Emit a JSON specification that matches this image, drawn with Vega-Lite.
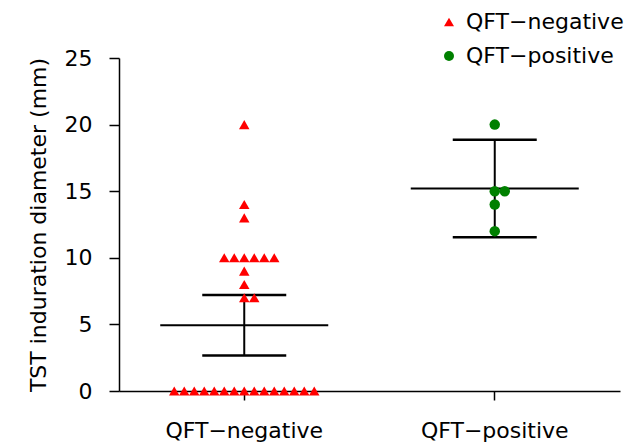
{
  "$schema": "https://vega.github.io/schema/vega-lite/v6.json",
  "width": 501,
  "height": 333,
  "autosize": {"type": "none"},
  "padding": {"left": 119, "top": 58, "right": 22, "bottom": 57},
  "background": "white",
  "config": {
    "view": {"stroke": null},
    "font": "DejaVu Sans",
    "axis": {
      "labelFont": "DejaVu Sans",
      "titleFont": "DejaVu Sans",
      "labelFontSize": 22,
      "titleFontSize": 22,
      "labelColor": "black",
      "titleColor": "black",
      "domainColor": "black",
      "tickColor": "black",
      "domainWidth": 1.5,
      "tickWidth": 1.5,
      "grid": false,
      "titleFontWeight": "normal"
    },
    "legend": {
      "labelFont": "DejaVu Sans",
      "labelFontSize": 22,
      "labelColor": "black"
    }
  },
  "datasets": {
    "raw": [
      {"group": "QFT-negative", "value": 0},
      {"group": "QFT-negative", "value": 0},
      {"group": "QFT-negative", "value": 0},
      {"group": "QFT-negative", "value": 0},
      {"group": "QFT-negative", "value": 0},
      {"group": "QFT-negative", "value": 0},
      {"group": "QFT-negative", "value": 0},
      {"group": "QFT-negative", "value": 0},
      {"group": "QFT-negative", "value": 0},
      {"group": "QFT-negative", "value": 0},
      {"group": "QFT-negative", "value": 0},
      {"group": "QFT-negative", "value": 0},
      {"group": "QFT-negative", "value": 0},
      {"group": "QFT-negative", "value": 0},
      {"group": "QFT-negative", "value": 0},
      {"group": "QFT-negative", "value": 7},
      {"group": "QFT-negative", "value": 7},
      {"group": "QFT-negative", "value": 8},
      {"group": "QFT-negative", "value": 9},
      {"group": "QFT-negative", "value": 10},
      {"group": "QFT-negative", "value": 10},
      {"group": "QFT-negative", "value": 10},
      {"group": "QFT-negative", "value": 10},
      {"group": "QFT-negative", "value": 10},
      {"group": "QFT-negative", "value": 10},
      {"group": "QFT-negative", "value": 13},
      {"group": "QFT-negative", "value": 14},
      {"group": "QFT-negative", "value": 20},
      {"group": "QFT-positive", "value": 12},
      {"group": "QFT-positive", "value": 14},
      {"group": "QFT-positive", "value": 15},
      {"group": "QFT-positive", "value": 15},
      {"group": "QFT-positive", "value": 20}
    ],
    "summary": [
      {"group": "QFT-negative", "mean": 4.93, "lo": 2.66, "hi": 7.2},
      {"group": "QFT-positive", "mean": 15.2, "lo": 11.54, "hi": 18.86}
    ]
  },
  "layer": [
    {
      "data": {"name": "summary"},
      "mark": {"type": "rule", "color": "black", "strokeWidth": 2},
      "encoding": {
        "x": {"field": "group", "type": "nominal"},
        "y": {"field": "lo", "type": "quantitative"},
        "y2": {"field": "hi"}
      }
    },
    {
      "data": {"name": "summary"},
      "mark": {"type": "tick", "color": "black", "size": 168, "thickness": 2, "opacity": 1},
      "encoding": {
        "x": {"field": "group", "type": "nominal"},
        "y": {"field": "mean", "type": "quantitative"}
      }
    },
    {
      "data": {"name": "summary"},
      "mark": {"type": "tick", "color": "black", "size": 84, "thickness": 2.5, "opacity": 1},
      "encoding": {
        "x": {"field": "group", "type": "nominal"},
        "y": {"field": "lo", "type": "quantitative"}
      }
    },
    {
      "data": {"name": "summary"},
      "mark": {"type": "tick", "color": "black", "size": 84, "thickness": 2.5, "opacity": 1},
      "encoding": {
        "x": {"field": "group", "type": "nominal"},
        "y": {"field": "hi", "type": "quantitative"}
      }
    },
    {
      "data": {"name": "raw"},
      "transform": [
        {"window": [{"op": "row_number", "as": "rank"}, {"op": "count", "as": "n"}], "groupby": ["group", "value"], "frame": [null, null]},
        {"calculate": "datum.rank - ceil(datum.n / 2)", "as": "slot"}
      ],
      "mark": {"type": "point", "filled": true, "opacity": 1, "size": 110},
      "encoding": {
        "x": {
          "field": "group",
          "type": "nominal",
          "scale": {"paddingInner": 0, "paddingOuter": 0},
          "axis": {"title": null, "labelAngle": 0, "tickSize": 9, "labelPadding": 20, "bandPosition": 0.5, "labelAlign": "center", "labelBaseline": "top", "labelExpr": "replace(datum.label, '-', '\u2212')"}
        },
        "xOffset": {
          "field": "slot",
          "type": "quantitative",
          "scale": {"domain": [-12.525, 12.525], "range": [0, 250.5]}
        },
        "y": {
          "field": "value",
          "type": "quantitative",
          "scale": {"domain": [0, 25], "nice": false},
          "axis": {"title": "TST induration diameter (mm)", "values": [0, 5, 10, 15, 20, 25], "tickSize": 10, "labelPadding": 17, "titlePadding": 14}
        },
        "color": {
          "field": "group",
          "type": "nominal",
          "scale": {"domain": ["QFT-negative", "QFT-positive"], "range": ["#ff0000", "#008000"]},
          "legend": {"title": null, "orient": "none", "legendX": 319, "legendY": -47, "padding": 0, "symbolSize": 100, "labelOffset": 6, "rowPadding": 12, "labelExpr": "replace(datum.label, '-', '\u2212')"}
        },
        "shape": {
          "field": "group",
          "type": "nominal",
          "scale": {"domain": ["QFT-negative", "QFT-positive"], "range": ["triangle-up", "circle"]},
          "legend": null
        }
      }
    }
  ]
}
